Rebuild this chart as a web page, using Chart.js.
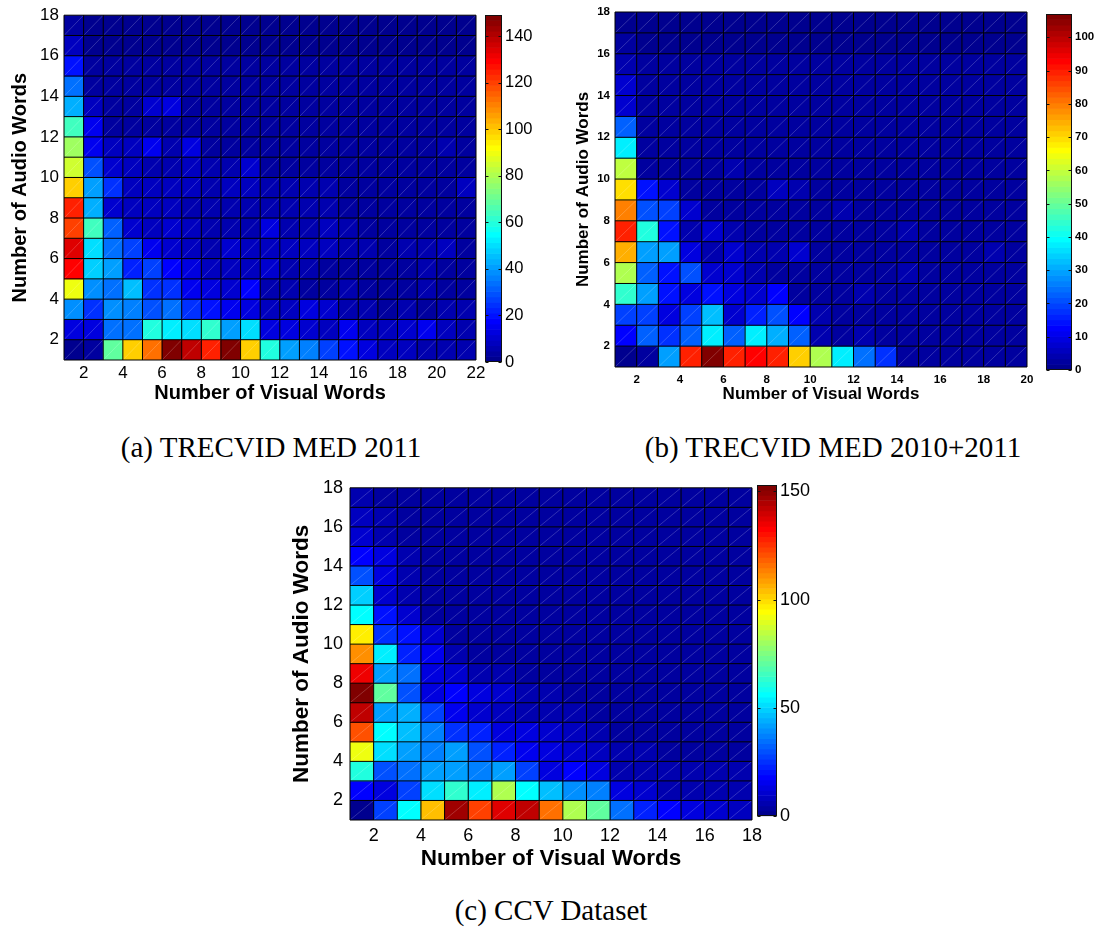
<!DOCTYPE html>
<html>
<head>
<meta charset="utf-8">
<script src="https://cdn.jsdelivr.net/npm/chart.js@4.4.0/dist/chart.umd.min.js"></script>
<style>
  body { margin: 0; background: #fff; width: 1101px; height: 929px; position: relative; overflow: hidden; }
  .box { position: absolute; }
  .caption { position: absolute; font-family: 'Liberation Serif', 'Times New Roman', serif; font-size: 29px;
             color: #000; white-space: nowrap; transform: translateX(-50%); line-height: 34px; }
</style>
</head>
<body>
<div class="box" style="left:0;top:0;width:495px;height:410px"><canvas id="heatMed11"></canvas></div>
<div class="box" style="left:480px;top:0;width:70px;height:380px"><canvas id="barMed11"></canvas></div>
<div class="box" style="left:560px;top:0;width:480px;height:410px"><canvas id="heatMed1011"></canvas></div>
<div class="box" style="left:1040px;top:0;width:61px;height:380px"><canvas id="barMed1011"></canvas></div>
<div class="box" style="left:280px;top:470px;width:490px;height:410px"><canvas id="heatCcv"></canvas></div>
<div class="box" style="left:750px;top:470px;width:60px;height:360px"><canvas id="barCcv"></canvas></div>

<div class="caption" style="left:271px;top:430px">(a) TRECVID MED 2011</div>
<div class="caption" style="left:833px;top:430px">(b) TRECVID MED 2010+2011</div>
<div class="caption" style="left:551px;top:893px">(c) CCV Dataset</div>

<script>
// ---- data: counts per (visual words, audio words) cell, bottom row first ----
const audioTicks = [2, 4, 6, 8, 10, 12, 14, 16, 18];

// (a) TRECVID MED 2011
const med11XTicks = [2, 4, 6, 8, 10, 12, 14, 16, 18, 20, 22];
const med11BarTicks = [0, 20, 40, 60, 80, 100, 120, 140];
const med11Max = 149;
const med11Counts = [
  [2, 3, 68, 100, 113, 149, 139, 125, 148, 100, 60, 41, 35, 26, 19, 12, 9, 8, 6, 6, 5],
  [12, 13, 33, 34, 60, 52, 49, 61, 40, 49, 13, 12, 10, 9, 15, 9, 7, 10, 16, 7, 6],
  [38, 24, 39, 37, 30, 33, 25, 20, 14, 12, 8, 8, 13, 11, 5, 5, 4, 5, 4, 5, 5],
  [90, 38, 33, 46, 24, 24, 16, 13, 11, 17, 5, 5, 4, 4, 5, 4, 4, 4, 5, 4, 4],
  [129, 47, 41, 23, 27, 18, 13, 7, 8, 8, 11, 5, 5, 4, 4, 4, 4, 4, 5, 4, 4],
  [135, 50, 33, 27, 14, 10, 8, 6, 10, 8, 9, 9, 8, 9, 5, 5, 4, 5, 5, 8, 4],
  [119, 65, 31, 10, 9, 10, 7, 6, 6, 6, 12, 6, 6, 9, 5, 4, 4, 4, 4, 4, 4],
  [124, 43, 11, 9, 7, 9, 6, 6, 5, 5, 5, 5, 5, 5, 4, 4, 4, 4, 4, 4, 4],
  [98, 40, 24, 9, 9, 7, 8, 6, 9, 8, 5, 5, 5, 5, 4, 4, 4, 4, 4, 4, 7],
  [85, 30, 10, 9, 5, 5, 8, 5, 5, 10, 4, 4, 4, 4, 4, 4, 4, 4, 4, 4, 4],
  [78, 15, 7, 9, 16, 5, 12, 4, 4, 4, 4, 4, 4, 4, 4, 4, 4, 4, 4, 6, 4],
  [65, 16, 4, 4, 4, 4, 4, 4, 4, 4, 4, 4, 4, 4, 4, 4, 4, 4, 4, 4, 4],
  [43, 7, 3, 3, 11, 13, 3, 3, 3, 3, 3, 3, 3, 3, 3, 3, 3, 3, 3, 3, 3],
  [33, 3, 3, 3, 3, 3, 3, 3, 3, 3, 3, 3, 3, 3, 3, 3, 3, 3, 3, 3, 3],
  [19, 3, 3, 3, 3, 3, 3, 3, 3, 3, 3, 3, 3, 3, 3, 3, 3, 3, 3, 3, 3],
  [7, 2, 2, 2, 2, 2, 2, 2, 2, 2, 2, 2, 2, 2, 2, 2, 2, 2, 2, 2, 2],
  [4, 2, 2, 2, 2, 2, 2, 2, 2, 2, 2, 2, 2, 2, 2, 2, 2, 2, 2, 2, 2]
];

// (b) TRECVID MED 2010+2011
const med1011XTicks = [2, 4, 6, 8, 10, 12, 14, 16, 18, 20];
const med1011BarTicks = [0, 10, 20, 30, 40, 50, 60, 70, 80, 90, 100];
const med1011Max = 107;
const med1011Counts = [
  [1, 3, 29, 89, 107, 89, 92, 89, 71, 58, 38, 25, 17, 3, 2, 2, 2, 2, 3],
  [12, 22, 17, 22, 37, 23, 38, 31, 22, 5, 3, 4, 2, 2, 2, 2, 2, 2, 2],
  [20, 20, 9, 20, 33, 8, 16, 21, 13, 4, 3, 2, 2, 2, 2, 2, 2, 2, 2],
  [44, 29, 15, 10, 14, 9, 7, 13, 3, 3, 3, 5, 2, 2, 2, 2, 2, 2, 2],
  [58, 22, 15, 21, 7, 8, 4, 3, 3, 3, 3, 3, 3, 4, 2, 2, 2, 2, 2],
  [74, 29, 29, 10, 4, 8, 4, 4, 7, 3, 2, 3, 2, 2, 2, 3, 2, 4, 2],
  [89, 43, 15, 4, 7, 4, 3, 3, 3, 3, 3, 3, 3, 5, 2, 2, 2, 2, 2],
  [80, 21, 20, 7, 3, 3, 3, 3, 3, 3, 5, 3, 3, 3, 2, 2, 2, 2, 2],
  [70, 15, 8, 3, 3, 3, 3, 6, 4, 2, 2, 2, 2, 2, 2, 2, 2, 2, 2],
  [60, 3, 3, 3, 3, 4, 3, 3, 3, 2, 2, 2, 2, 2, 2, 2, 2, 2, 2],
  [38, 2, 2, 2, 2, 2, 2, 2, 2, 2, 2, 2, 2, 2, 2, 2, 2, 2, 2],
  [23, 2, 2, 2, 2, 2, 3, 2, 2, 2, 2, 2, 2, 2, 2, 2, 2, 2, 2],
  [7, 2, 2, 2, 2, 2, 2, 2, 2, 2, 2, 2, 2, 2, 2, 2, 2, 2, 2],
  [7, 2, 2, 2, 2, 2, 2, 2, 2, 2, 2, 2, 2, 2, 2, 2, 2, 2, 2],
  [4, 2, 2, 2, 2, 2, 2, 2, 2, 2, 2, 2, 2, 2, 2, 2, 2, 2, 2],
  [2, 1, 1, 1, 1, 1, 1, 1, 1, 1, 1, 1, 1, 1, 1, 1, 1, 1, 1],
  [1, 1, 1, 1, 1, 1, 1, 1, 1, 1, 1, 1, 1, 1, 1, 1, 1, 1, 1]
];

// (c) CCV Dataset
const ccvXTicks = [2, 4, 6, 8, 10, 12, 14, 16, 18];
const ccvBarTicks = [0, 50, 100, 150];
const ccvMax = 153;
const ccvCounts = [
  [2, 28, 57, 105, 147, 124, 138, 142, 116, 83, 71, 34, 22, 19, 13, 10, 8],
  [17, 13, 28, 52, 63, 54, 83, 55, 46, 40, 38, 13, 10, 7, 6, 6, 5],
  [61, 31, 34, 41, 43, 38, 41, 27, 14, 17, 13, 7, 7, 5, 5, 5, 5],
  [91, 52, 41, 38, 43, 29, 22, 16, 12, 11, 8, 5, 5, 4, 4, 4, 4],
  [121, 57, 47, 38, 25, 22, 13, 13, 11, 8, 5, 4, 4, 4, 4, 4, 4],
  [143, 43, 45, 28, 15, 11, 9, 7, 6, 5, 4, 4, 4, 4, 4, 4, 4],
  [153, 70, 31, 14, 19, 13, 10, 7, 5, 4, 4, 4, 4, 4, 4, 4, 4],
  [136, 43, 35, 13, 11, 7, 5, 4, 4, 4, 4, 4, 4, 4, 4, 4, 4],
  [110, 54, 22, 15, 6, 4, 4, 4, 4, 4, 4, 4, 4, 4, 4, 4, 4],
  [96, 25, 20, 10, 4, 4, 4, 4, 4, 4, 4, 4, 4, 4, 4, 4, 4],
  [56, 21, 11, 4, 4, 4, 4, 4, 4, 4, 4, 4, 4, 4, 4, 4, 4],
  [50, 10, 6, 4, 4, 4, 4, 4, 4, 4, 4, 4, 4, 4, 4, 4, 4],
  [29, 13, 5, 4, 4, 4, 4, 4, 4, 4, 4, 4, 4, 4, 4, 4, 4],
  [18, 12, 5, 4, 4, 4, 4, 4, 4, 4, 4, 4, 4, 4, 4, 4, 4],
  [10, 6, 4, 4, 4, 4, 4, 4, 4, 4, 4, 4, 4, 4, 4, 4, 4],
  [8, 5, 4, 4, 4, 4, 4, 4, 4, 4, 4, 4, 4, 4, 4, 4, 4],
  [6, 4, 4, 4, 4, 4, 4, 4, 4, 4, 4, 4, 4, 4, 4, 4, 4]
];

// ---- jet(64) colormap, same indexing as MATLAB's caxis mapping ----
function jetColor(v, cmax) {
  const m = 64;
  const i = Math.min(Math.max(Math.floor(v / cmax * m) + 1, 1), m);
  const r = i <= 24 ? 0 : i <= 40 ? (i - 24) / 16 : i <= 55 ? 1 : (72 - i) / 16;
  const g = i <= 8 ? 0 : i <= 24 ? (i - 8) / 16 : i <= 39 ? 1 : i <= 55 ? (56 - i) / 16 : 0;
  const b = i <= 8 ? (i + 8) / 16 : i <= 23 ? 1 : i <= 39 ? (40 - i) / 16 : 0;
  return `rgb(${Math.round(r * 255)},${Math.round(g * 255)},${Math.round(b * 255)})`;
}

// cell edges + the thin light seam that pcolor patches leave across each cell
const cellLines = {
  id: 'cellLines',
  afterDatasetsDraw(chart) {
    const { ctx, chartArea: a, scales: { x, y } } = chart;
    ctx.save();
    ctx.strokeStyle = 'rgba(255,255,255,0.32)';
    ctx.lineWidth = 0.6;
    ctx.beginPath();
    for (let i = x.min; i < x.max; i++) {
      for (let j = y.min; j < y.max; j++) {
        ctx.moveTo(x.getPixelForValue(i), y.getPixelForValue(j));
        ctx.lineTo(x.getPixelForValue(i + 1), y.getPixelForValue(j + 1));
      }
    }
    ctx.stroke();
    ctx.strokeStyle = '#000';
    ctx.lineWidth = 1;
    ctx.beginPath();
    for (let i = x.min; i <= x.max; i++) {
      const px = x.getPixelForValue(i);
      ctx.moveTo(px, a.top); ctx.lineTo(px, a.bottom);
    }
    for (let j = y.min; j <= y.max; j++) {
      const py = y.getPixelForValue(j);
      ctx.moveTo(a.left, py); ctx.lineTo(a.right, py);
    }
    ctx.stroke();
    ctx.restore();
  }
};

// colorbar outline with short inward tick marks on both edges
const barFrame = {
  id: 'barFrame',
  afterDatasetsDraw(chart) {
    const { ctx, chartArea: a, scales: { y } } = chart;
    const l = Math.round(a.left) + 0.5, r = Math.round(a.right) - 0.5;
    ctx.save();
    ctx.strokeStyle = '#111';
    ctx.lineWidth = 1;
    ctx.strokeRect(l, Math.round(a.top) + 0.5, r - l, Math.round(a.bottom) - Math.round(a.top) - 1);
    ctx.beginPath();
    y.ticks.forEach(t => {
      const py = Math.round(y.getPixelForValue(t.value)) + 0.5;
      ctx.moveTo(l, py); ctx.lineTo(l + 3, py);
      ctx.moveTo(r - 3, py); ctx.lineTo(r, py);
    });
    ctx.stroke();
    ctx.restore();
  }
};

function heatmap(id, counts, cmax, xTicks, g) {
  const nx = counts[0].length + 1;
  const ny = counts.length + 1;
  const cells = [];
  counts.forEach((row, r) => row.forEach((v, c) => cells.push({ x: c + 1.5, y: [r + 1, r + 2], v })));
  return new Chart(document.getElementById(id), {
    type: 'bar',
    data: {
      datasets: [{
        data: cells,
        backgroundColor: cells.map(c => jetColor(c.v, cmax)),
        borderWidth: 0,
        barPercentage: 1,
        categoryPercentage: 1,
        grouped: false
      }]
    },
    options: {
      responsive: true,
      maintainAspectRatio: false,
      animation: false,
      layout: { padding: g.padding },
      plugins: { legend: { display: false }, tooltip: { enabled: false } },
      scales: {
        x: {
          type: 'linear', min: 1, max: nx, offset: false,
          grid: { display: false, drawTicks: false },
          border: { display: false },
          afterBuildTicks: s => { s.ticks = xTicks.map(value => ({ value })); },
          afterFit: s => { s.height = g.xAxisH; },
          ticks: { font: g.tickFont, color: '#000', padding: g.xTickPad, maxRotation: 0, autoSkip: false },
          title: { display: true, text: 'Number of Visual Words', color: '#000', font: g.titleFont,
                   padding: { top: 0, bottom: g.xTitlePad } }
        },
        y: {
          type: 'linear', min: 1, max: ny,
          grid: { display: false, drawTicks: false },
          border: { display: false },
          afterBuildTicks: s => { s.ticks = audioTicks.map(value => ({ value })); },
          afterFit: s => { s.width = g.yAxisW; },
          ticks: { font: g.tickFont, color: '#000', padding: g.yTickPad, autoSkip: false },
          title: { display: true, text: 'Number of Audio Words', color: '#000', font: g.titleFont,
                   padding: { top: g.yTitlePad, bottom: 0 } }
        }
      }
    },
    plugins: [cellLines]
  });
}

function colorbar(id, cmax, ticks, g) {
  const levels = [];
  for (let k = 0; k < 64; k++) levels.push({ x: 'c', y: [k * cmax / 64, (k + 1) * cmax / 64] });
  return new Chart(document.getElementById(id), {
    type: 'bar',
    data: {
      labels: ['c'],
      datasets: [{
        data: levels,
        backgroundColor: levels.map(l => jetColor((l.y[0] + l.y[1]) / 2, cmax)),
        borderWidth: 0,
        barPercentage: 1,
        categoryPercentage: 1
      }]
    },
    options: {
      responsive: true,
      maintainAspectRatio: false,
      animation: false,
      layout: { padding: g.padding },
      plugins: { legend: { display: false }, tooltip: { enabled: false } },
      scales: {
        x: { display: false },
        y: {
          position: 'right', min: 0, max: cmax,
          grid: { display: false, drawTicks: false },
          border: { display: false },
          afterBuildTicks: s => { s.ticks = ticks.map(value => ({ value })); },
          afterFit: s => { s.width = g.axisW; },
          ticks: { font: g.tickFont, color: '#000', padding: 3, autoSkip: false }
        }
      }
    },
    plugins: [barFrame]
  });
}

const sansFont = "'Liberation Sans', Arial, sans-serif";

heatmap('heatMed11', med11Counts, med11Max, med11XTicks, {
  padding: { left: 0, top: 15, right: 19, bottom: 0 },
  xAxisH: 50, yAxisW: 64, xTickPad: 3, yTickPad: 5, xTitlePad: 5, yTitlePad: 8,
  tickFont: { family: sansFont, size: 17 },
  titleFont: { family: sansFont, size: 20, weight: 'bold' }
});
colorbar('barMed11', med11Max, med11BarTicks, {
  padding: { left: 5, top: 15, right: 0, bottom: 18 }, axisW: 48,
  tickFont: { family: sansFont, size: 16.5 }
});

heatmap('heatMed1011', med1011Counts, med1011Max, med1011XTicks, {
  padding: { left: 0, top: 12, right: 13, bottom: 0 },
  xAxisH: 43, yAxisW: 55, xTickPad: 6, yTickPad: 5, xTitlePad: 5, yTitlePad: 13,
  tickFont: { family: sansFont, size: 11.5, weight: 'bold' },
  titleFont: { family: sansFont, size: 17, weight: 'bold' }
});
colorbar('barMed1011', med1011Max, med1011BarTicks, {
  padding: { left: 6, top: 14, right: 0, bottom: 10 }, axisW: 29,
  tickFont: { family: sansFont, size: 11.5, weight: 'bold' }
});

heatmap('heatCcv', ccvCounts, ccvMax, ccvXTicks, {
  padding: { left: 0, top: 15, right: 18, bottom: 0 },
  xAxisH: 60, yAxisW: 70, xTickPad: 5, yTickPad: 7, xTitlePad: 8, yTitlePad: 8,
  tickFont: { family: sansFont, size: 18 },
  titleFont: { family: sansFont, size: 22.5, weight: 'bold' }
});
colorbar('barCcv', ccvMax, ccvBarTicks, {
  padding: { left: 7, top: 15, right: 0, bottom: 9 }, axisW: 33,
  tickFont: { family: sansFont, size: 18 }
});
</script>
</body>
</html>
